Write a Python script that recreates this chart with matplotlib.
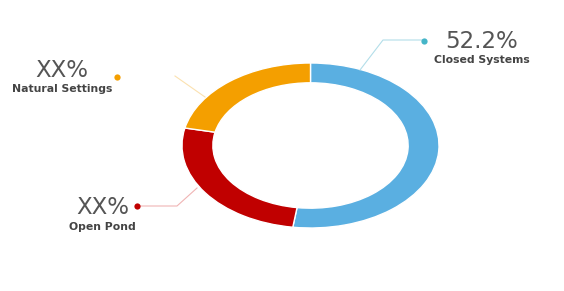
import matplotlib
matplotlib.use('Agg')
import matplotlib.pyplot as plt

# Данные
labels = ['Closed Systems', 'Open Pond', 'Natural Settings']
values = [52.2, 26.2, 21.6]
value_texts = ['52.2%', 'XX%', 'XX%']
colors = ['#5AAFE1', '#C00000', '#F49F00']
dot_colors = ['#45B5C8', '#C00000', '#F49F00']
line_colors = ['#B3DEE9', '#F0B4B4', '#FBE1B0']

W, H = 564, 291
fig = plt.figure(figsize=(W / 100, H / 100), dpi=100)

# Кольцевая диаграмма (эллипс, как в исходнике)
cx, cy, rx, ry = 310.5, 145.5, 128.5, 82.5
pax = fig.add_axes([(cx - rx) / W, (H - cy - ry) / H, 2 * rx / W, 2 * ry / H])
pax.pie(values, colors=colors, startangle=90, counterclock=False,
        wedgeprops=dict(width=0.24, edgecolor='white', linewidth=1))
pax.set_aspect('auto')
pax.set_xlim(-1, 1)
pax.set_ylim(-1, 1)
pax.axis('off')

# Подписи и выноски в пиксельных координатах
ax = fig.add_axes([0, 0, 1, 1])
ax.set_xlim(0, W)
ax.set_ylim(H, 0)
ax.axis('off')

leaders = [
    [(360, 70), (383, 40), (424, 40)],
    [(197, 188), (177, 206), (137, 206)],
    [(205, 97), (175, 76)],
]
dots = [(424, 41), (137, 206), (117, 77)]
# x центра, базовая линия процента, базовая линия подписи
text_pos = [(481.5, 48.5, 63), (102.5, 214, 229.5), (62, 77, 92)]

for i in range(3):
    xs = [p[0] for p in leaders[i]]
    ys = [p[1] for p in leaders[i]]
    ax.plot(xs, ys, color=line_colors[i], lw=0.8)
    ax.plot(*dots[i], 'o', ms=4.5, color=dot_colors[i], mec='none')
    tx, ty1, ty2 = text_pos[i]
    ax.text(tx, ty1, value_texts[i], ha='center', va='baseline',
            fontsize=16.5, color='#555555', family='DejaVu Sans')
    ax.text(tx, ty2, labels[i], ha='center', va='baseline',
            fontsize=7.8, fontweight='bold', color='#444444', family='DejaVu Sans')

fig.savefig('out.png', dpi=100)
